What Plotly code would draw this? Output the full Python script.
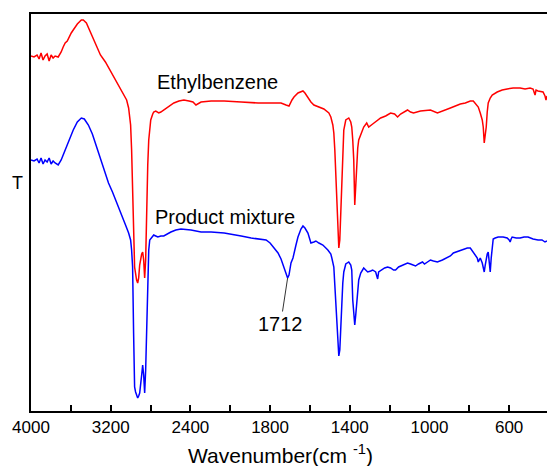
import numpy as np
import plotly.graph_objects as go

# ---------------- data (wavenumber cm^-1, transmittance a.u.) ----------------
ethylbenzene = [(4000,355),(3970,354),(3939,356),(3919,352),(3899,358),(3879,351),(3859,355),(3838,357),(3818,350),(3798,356),(3778,353),(3758,355),(3727,354),(3697,359),(3677,364),(3657,368),(3636,370),(3616,375),(3596,378),(3576,381),(3535,387),(3495,391),(3475,391),(3444,388),(3404,379),(3354,368),(3303,356),(3253,349),(3202,340),(3152,331),(3101,323),(3071,318),(3040,311),(3020,303),(3000,286),(2990,261),(2980,211),(2970,171),(2960,144),(2940,131),(2929,128),(2919,133),(2909,146),(2889,157),(2879,159),(2869,151),(2859,133),(2849,151),(2838,211),(2828,246),(2818,271),(2798,291),(2778,297),(2768,299),(2748,300),(2717,298),(2697,299),(2667,301),(2616,305),(2566,308),(2515,310),(2465,311),(2414,310),(2374,309),(2344,306),(2313,308),(2293,309),(2192,310),(2061,310),(1945,309),(1860,308),(1795,308),(1745,308),(1720,306),(1705,305),(1690,311),(1680,314),(1660,318),(1645,319),(1635,320),(1625,318),(1610,313),(1595,309),(1580,306),(1555,304),(1530,302),(1505,298),(1495,294),(1485,286),(1480,278),(1475,261),(1470,234),(1465,201),(1460,178),(1455,163),(1450,171),(1445,201),(1440,236),(1435,268),(1430,281),(1420,291),(1410,293),(1405,293),(1395,289),(1390,284),(1385,271),(1380,251),(1375,206),(1370,226),(1365,251),(1360,263),(1355,271),(1345,277),(1330,284),(1315,288),(1305,284),(1285,287),(1270,289),(1245,293),(1220,295),(1195,298),(1175,297),(1160,294),(1145,297),(1130,299),(1110,301),(1095,299),(1080,298),(1045,300),(995,301),(960,298),(930,300),(895,303),(870,305),(845,307),(820,308),(795,310),(780,310),(770,308),(755,304),(745,298),(735,291),(730,284),(725,268),(720,276),(715,284),(710,299),(705,308),(695,313),(685,316),(660,319),(635,321),(610,322),(580,323),(545,323),(520,322),(495,323),(480,322),(470,316),(465,321),(455,320),(440,319),(430,319),(420,315),(415,311),(410,315)]

product_mixture = [(4000,251),(3970,250),(3939,252),(3919,248),(3899,253),(3879,247),(3859,251),(3838,249),(3818,253),(3798,247),(3778,250),(3758,248),(3727,246),(3697,251),(3677,256),(3646,264),(3616,272),(3576,281),(3535,289),(3495,293),(3465,292),(3424,286),(3384,277),(3354,268),(3323,258),(3293,248),(3263,239),(3222,228),(3182,219),(3152,211),(3121,203),(3081,194),(3051,186),(3020,178),(3000,171),(2990,161),(2980,144),(2970,78),(2960,24),(2950,19),(2929,13),(2919,15),(2909,18),(2889,36),(2879,46),(2869,36),(2859,18),(2849,41),(2838,94),(2828,144),(2818,161),(2808,171),(2788,174),(2768,176),(2748,175),(2727,174),(2697,175),(2667,175),(2596,179),(2546,181),(2495,182),(2394,181),(2293,179),(2192,179),(2061,178),(1985,176),(1945,175),(1895,173),(1860,172),(1820,171),(1800,168),(1785,164),(1760,158),(1745,152),(1735,146),(1720,139),(1712,133),(1705,136),(1695,148),(1685,153),(1680,158),(1670,166),(1660,174),(1645,182),(1635,185),(1625,183),(1610,178),(1600,171),(1595,168),(1580,169),(1570,170),(1555,168),(1535,166),(1510,161),(1495,157),(1490,153),(1485,149),(1480,144),(1475,126),(1470,111),(1465,91),(1460,71),(1455,55),(1450,61),(1445,78),(1440,106),(1435,128),(1430,139),(1420,147),(1410,149),(1405,149),(1395,146),(1390,141),(1385,111),(1380,96),(1375,86),(1370,96),(1365,111),(1360,123),(1355,131),(1345,138),(1330,143),(1320,141),(1310,139),(1295,140),(1285,141),(1270,139),(1265,135),(1260,132),(1255,139),(1240,141),(1225,143),(1210,144),(1195,143),(1180,141),(1170,141),(1155,144),(1130,146),(1110,148),(1095,147),(1080,146),(1070,145),(1055,147),(1035,149),(1025,147),(1010,149),(995,151),(980,150),(960,149),(935,151),(910,153),(895,155),(880,158),(855,160),(830,162),(810,163),(795,163),(780,159),(770,156),(760,153),(755,149),(750,151),(745,153),(735,148),(730,144),(725,139),(720,146),(715,154),(710,157),(705,159),(700,151),(695,139),(690,153),(685,164),(680,172),(670,173),(655,174),(630,174),(610,173),(600,171),(595,169),(590,172),(585,174),(565,173),(545,173),(525,174),(505,174),(480,172),(455,171),(435,171),(420,169),(410,170)]

major_ticks = [4000, 3200, 2400, 1800, 1400, 1000, 600]
major_labels = ["4000", "3200", "2400", "1800", "1400", "1000", "600"]
minor_ticks = [3600, 2800, 2000, 1600, 1200, 800]
x_limits = [4000, 410]
y_limits = [0, 397]
peak_label = 1712


# IR axis with a scale change at 2000 cm^-1 (region below 2000 expanded x2)
def to_axis(wn):
    wn = np.asarray(wn, dtype=float)
    return np.where(wn >= 2000, 4000 - wn, 2000 + 2 * (2000 - wn))


FONT = "Arial, Liberation Sans, sans-serif"

fig = go.Figure()
for name, data, color in [("Ethylbenzene", ethylbenzene, "#ff0000"),
                          ("Product mixture", product_mixture, "#0000ff")]:
    wn, t = zip(*data)
    fig.add_trace(go.Scatter(x=to_axis(wn), y=list(t), mode="lines", name=name,
                             line=dict(color=color, width=1.5), showlegend=False))

pm = dict(product_mixture)

fig.update_layout(
    width=547, height=466,
    margin=dict(l=31, r=0, t=14, b=55, autoexpand=False),
    paper_bgcolor="white", plot_bgcolor="white",
    font=dict(family=FONT, color="black", size=17),
    xaxis=dict(range=list(to_axis(x_limits)), showgrid=False, zeroline=False,
               automargin=False,
               showline=True, linecolor="black", linewidth=2, mirror=True,
               ticks="inside", ticklen=6, tickwidth=1.5, tickcolor="black",
               tickmode="array",
               tickvals=list(to_axis(major_ticks)), ticktext=major_labels,
               tickfont=dict(size=17),
               minor=dict(tickmode="array", tickvals=list(to_axis(minor_ticks)),
                          ticks="inside", ticklen=6, tickwidth=1.5,
                          tickcolor="black", showgrid=False)),
    yaxis=dict(range=y_limits, showgrid=False, zeroline=False, showline=True,
               automargin=False,
               linecolor="black", linewidth=2, showticklabels=False, ticks=""),
    annotations=[
        dict(x=float(to_axis(2126)), y=329, xref="x", yref="y", text="Ethylbenzene",
             showarrow=False, font=dict(size=20)),
        dict(x=float(to_axis(2056)), y=194, xref="x", yref="y", text="Product mixture",
             showarrow=False, font=dict(size=20)),
        dict(x=float(to_axis(peak_label)), y=pm[peak_label], xref="x", yref="y",
             text=str(peak_label), showarrow=True, arrowhead=0, arrowwidth=1,
             arrowcolor="#333333", ax=-7, ay=46, font=dict(size=20)),
        dict(x=-0.04, y=228, xref="paper", yref="y", text="T", showarrow=False,
             font=dict(size=18)),
        dict(x=0.4826, y=-0.108, xref="paper", yref="paper",
             text="Wavenumber(cm <sup>-1</sup>)", showarrow=False,
             font=dict(size=21), yanchor="middle"),
    ],
)

fig.write_html("out.html", config={"displayModeBar": False},
               post_script="document.body.style.margin='0';"
               "document.body.style.overflow='hidden';")
